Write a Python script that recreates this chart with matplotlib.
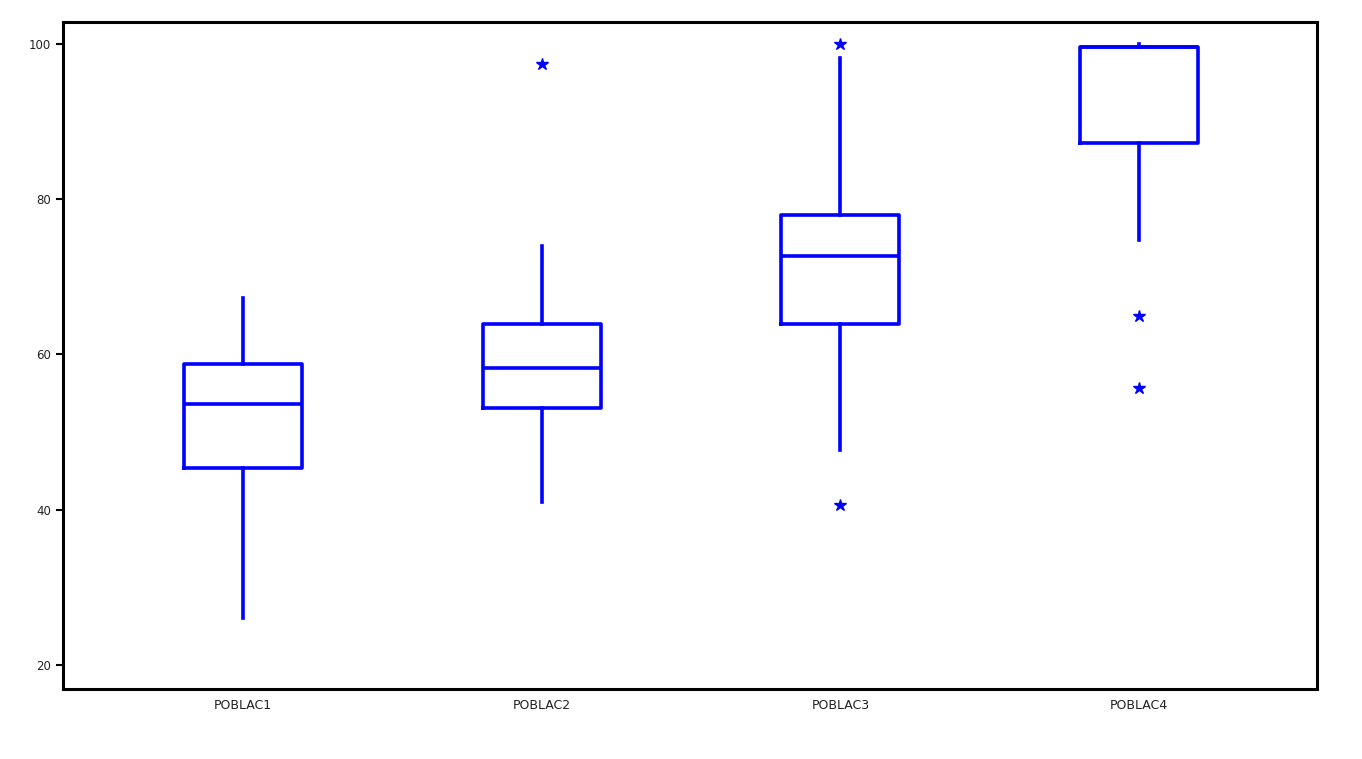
import matplotlib
matplotlib.use("Agg")
import matplotlib.pyplot as plt

labels = ["POBLAC1", "POBLAC2", "POBLAC3", "POBLAC4"]
whislo = [26.0, 41.0, 47.7, 74.7]
q1 = [45.4, 53.1, 63.9, 87.2]
med = [53.6, 58.2, 72.7, 99.6]
q3 = [58.8, 63.9, 78.0, 99.6]
whishi = [67.3, 74.0, 98.2, 100.0]
fliers = [[], [97.4], [100.0, 40.6], [64.9, 55.7]]

stats = []
for i in range(len(labels)):
    stats.append({"label": labels[i], "whislo": whislo[i], "q1": q1[i], "med": med[i],
                  "q3": q3[i], "whishi": whishi[i], "fliers": fliers[i]})

fig = plt.figure(figsize=(13.62, 7.59), dpi=100)
ax = fig.add_axes([0.0463, 0.0922, 0.9207, 0.8788])

blue = "#0000ff"
line = dict(color=blue, linewidth=2.6)
ax.bxp(stats, positions=[1, 2, 3, 4], widths=0.395, showcaps=False,
       boxprops=line, whiskerprops=line, medianprops=line,
       flierprops=dict(marker="*", markersize=9, markerfacecolor=blue, markeredgecolor=blue))

ax.set_xlim(0.397, 4.596)
ax.set_ylim(16.9, 102.8)
ax.set_yticks([20, 40, 60, 80, 100])
ax.tick_params(axis="y", length=5, width=1.5, labelsize=8.5, colors="black", labelcolor="#222222")
ax.tick_params(axis="x", length=0, labelsize=9, labelcolor="#222222", pad=7)
for s in ax.spines.values():
    s.set_linewidth(2.2)
    s.set_color("black")

fig.savefig("out.png", dpi=100)
